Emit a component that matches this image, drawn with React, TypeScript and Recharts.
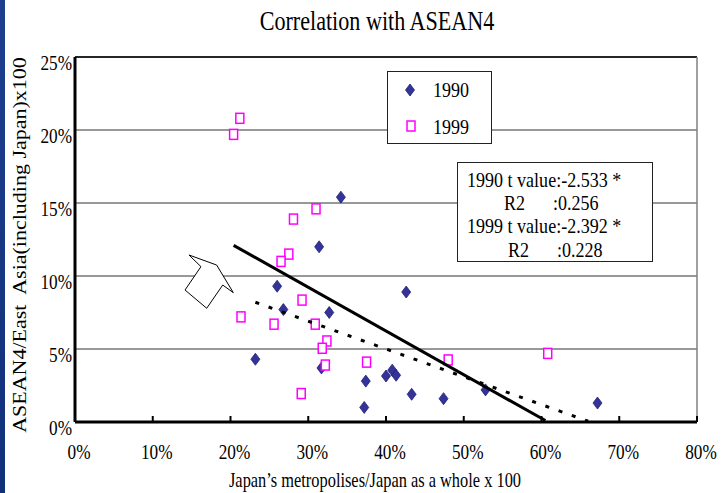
import React from 'react';
import { ScatterChart, Scatter, XAxis, YAxis, CartesianGrid, ReferenceLine, Legend } from 'recharts';

// values, in percent
const x1990 = [34.2, 31.4, 26.0, 42.6, 26.8, 32.7, 23.2, 31.7, 37.4, 37.2, 40.0, 40.8, 41.3, 43.3, 47.4, 52.8, 67.2];
const y1990 = [15.4, 12.0, 9.3, 8.9, 7.7, 7.5, 4.3, 3.7, 2.8, 1.0, 3.15, 3.55, 3.2, 1.9, 1.6, 2.2, 1.3];
const x1999 = [21.2, 20.4, 31.0, 28.1, 27.5, 26.5, 29.2, 21.35, 25.6, 30.9, 32.4, 31.8, 32.2, 37.5, 29.1, 48.0, 60.8];
const y1999 = [20.8, 19.7, 14.6, 13.9, 11.5, 11.0, 8.35, 7.2, 6.7, 6.7, 5.55, 5.05, 3.9, 4.1, 1.95, 4.25, 4.7];

// regression lines (end points)
const fit1990X = [20.4, 60.5];
const fit1990Y = [12.1, 0.1];
const fit1999X = [23.2, 66.0];
const fit1999Y = [8.2, 0.05];

// block arrow annotation outline (closed)
const arrowX = [14.66, 18.22, 20.36, 19.0, 16.94, 14.15, 16.2, 14.66];
const arrowY = [11.44, 10.75, 8.86, 9.38, 7.79, 9.04, 10.64, 11.44];

const xTicks = [0, 10, 20, 30, 40, 50, 60, 70, 80];
const yTicks = [0, 5, 10, 15, 20, 25];
const seriesNames = ['1990', '1999'];
const statLines = ['1990 t value:-2.533 *', '1999 t value:-2.392 *'];
const r2Values = [':0.256', ':0.228'];

const zip = (xs: number[], ys: number[]) => xs.map((x, i) => ({ x, y: ys[i] }));

const serif = '"Liberation Serif", "Times New Roman", serif';
const SQ = 0.82; // the original is squeezed horizontally

const CText = ({ x, y, size, anchor = 'start', rotate = 0, children }: any) => (
  <text
    transform={`translate(${x},${y}) rotate(${rotate}) scale(${rotate ? 1 : SQ},${rotate ? SQ : 1})`}
    textAnchor={anchor}
    fontSize={size}
    fontFamily={serif}
    fill="#000"
    style={{ whiteSpace: 'pre' }}
  >
    {children}
  </text>
);

const Diamond = ({ cx, cy }: any) => (
  <polygon
    points={`${cx},${cy - 6} ${cx + 4.5},${cy} ${cx},${cy + 6} ${cx - 4.5},${cy}`}
    fill="#333399"
    stroke="#222277"
    strokeWidth={0.8}
  />
);

const Square = ({ cx, cy }: any) => (
  <rect x={cx - 4} y={cy - 5} width={8} height={10} fill="#fff" stroke="#ff00ff" strokeWidth={1.5} />
);

const NoShape = () => <g />;

const XTick = ({ x, y, payload }: any) => (
  <g>
    <line x1={x} x2={x} y1={y} y2={y - 6} stroke="#000" strokeWidth={2} />
    <CText x={x + 4} y={y + 37} size={21} anchor="middle">{`${payload.value}%`}</CText>
  </g>
);

const YTick = ({ x, y, payload }: any) => (
  <CText x={x - 3} y={y + 13} size={21} anchor="end">{`${payload.value}%`}</CText>
);

const LegendBox = () => (
  <svg width={105} height={73} style={{ display: 'block' }}>
    <rect x={0.5} y={0.5} width={104} height={72} fill="#fff" stroke="#222" strokeWidth={1} />
    <Diamond cx={23} cy={19} />
    <CText x={46} y={26} size={22}>{seriesNames[0]}</CText>
    <Square cx={24} cy={55} />
    <CText x={46} y={63} size={22}>{seriesNames[1]}</CText>
  </svg>
);

export default function App() {
  return (
    <div style={{ position: 'absolute', left: 0, top: 0, width: 721, height: 493, background: '#fff', overflow: 'hidden' }}>
      <div style={{ position: 'absolute', left: 0, top: 0, width: 5, height: 493, background: 'linear-gradient(#1d3f8e, #12307a)' }} />
      <div style={{ position: 'absolute', left: 0, top: 0 }}>
        <ScatterChart width={721} height={493} margin={{ top: 57, right: 24, bottom: 41, left: 30 }}>
          <CartesianGrid vertical={false} stroke="#333" strokeWidth={1} />
          <XAxis
            type="number"
            dataKey="x"
            domain={[0, 80]}
            ticks={xTicks}
            height={30}
            tickSize={0}
            tickMargin={0}
            tick={(p: any) => <XTick {...p} />}
            axisLine={{ stroke: '#000', strokeWidth: 3 }}
            tickLine={false}
          />
          <YAxis
            type="number"
            dataKey="y"
            domain={[0, 25]}
            ticks={yTicks}
            width={45}
            tickSize={0}
            tickMargin={0}
            tick={(p: any) => <YTick {...p} />}
            axisLine={{ stroke: '#000', strokeWidth: 3 }}
            tickLine={false}
          />
          <ReferenceLine y={25} stroke="#000" strokeWidth={1.5} />
          <ReferenceLine x={80} stroke="#808080" strokeWidth={1.5} />
          <Legend
            layout="horizontal"
            verticalAlign="middle"
            align="center"
            content={() => <LegendBox />}
            wrapperStyle={{ left: 387, top: 71, width: 105, height: 73 }}
          />
          <Scatter name={seriesNames[0]} data={zip(x1990, y1990)} shape={Diamond} isAnimationActive={false} />
          <Scatter name={seriesNames[1]} data={zip(x1999, y1999)} shape={Square} isAnimationActive={false} />
          <Scatter
            data={zip(fit1990X, fit1990Y)}
            shape={NoShape}
            line={{ stroke: '#000', strokeWidth: 3 }}
            legendType="none"
            isAnimationActive={false}
          />
          <Scatter
            data={zip(fit1999X, fit1999Y)}
            shape={NoShape}
            line={{ stroke: '#000', strokeWidth: 3, strokeDasharray: '4 10' }}
            legendType="none"
            isAnimationActive={false}
          />
          <Scatter
            data={zip(arrowX, arrowY)}
            shape={NoShape}
            line={(p: any) => (
              <polygon
                points={p.points.map((q: any) => `${q.x},${q.y}`).join(' ')}
                fill="#fff"
                stroke="#000"
                strokeWidth={1}
                strokeLinejoin="miter"
              />
            )}
            legendType="none"
            isAnimationActive={false}
          />
        </ScatterChart>
      </div>
      <svg width={721} height={493} style={{ position: 'absolute', left: 0, top: 0, pointerEvents: 'none' }}>
        <CText x={377} y={30} size={27} anchor="middle">Correlation with ASEAN4</CText>
        <CText x={375} y={487} size={20} anchor="middle">Japan’s metropolises/Japan as a whole x 100</CText>
        <CText x={26} y={245} size={22} anchor="middle" rotate={-90}>ASEAN4/East  Asia(including Japan)x100</CText>
        <rect x={457.5} y={162.5} width={195} height={99} fill="#fff" stroke="#222" strokeWidth={1} />
        <CText x={467} y={187} size={22}>{statLines[0]}</CText>
        <CText x={504} y={210} size={22}>R2</CText>
        <CText x={553} y={210} size={22}>{r2Values[0]}</CText>
        <CText x={467} y={233} size={22}>{statLines[1]}</CText>
        <CText x={508} y={257} size={22}>R2</CText>
        <CText x={557} y={257} size={22}>{r2Values[1]}</CText>
      </svg>
    </div>
  );
}
